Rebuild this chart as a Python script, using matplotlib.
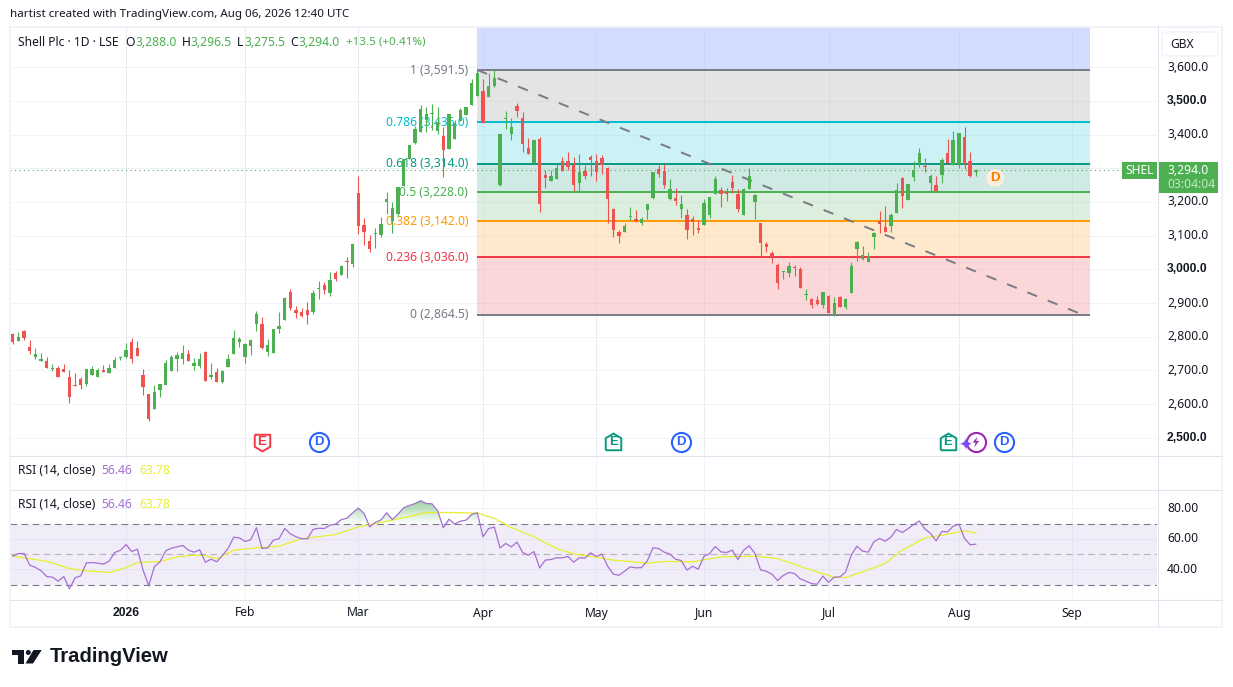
import matplotlib
matplotlib.use('Agg')
import numpy as np
import matplotlib.pyplot as plt
from matplotlib.colors import LinearSegmentedColormap
from matplotlib.patches import Ellipse, FancyBboxPatch, Polygon, Rectangle
from matplotlib.path import Path

plt.rcParams['font.family'] = ['Noto Sans', 'DejaVu Sans']

# OHLC, one value per daily bar
opens = [
    2808, 2787, 2817, 2769, 2739, 2727, 2727, 2703, 2706, 2703,
    2682, 2658, 2676, 2661, 2685, 2682, 2700, 2691, 2706, 2736,
    2739, 2784, 2766, 2685, 2631, 2586, 2643, 2658, 2697, 2733,
    2733, 2748, 2712, 2712, 2754, 2682, 2694, 2667, 2709, 2748,
    2784, 2739, 2772, 2838, 2838, 2754, 2751, 2823, 2850, 2934,
    2880, 2874, 2880, 2874, 2943, 2955, 2931, 2988, 2984, 3024,
    3016, 3226, 3131, 3084, 3106, 3102, 3201, 3142, 3164, 3248,
    3328, 3375, 3409, 3444, 3461, 3411, 3396, 3358, 3387, 3441,
    3459, 3488, 3513, 3530, 3510, 3545, 3251, 3446, 3402, 3485,
    3449, 3361, 3317, 3386, 3279, 3261, 3267, 3321, 3321, 3309,
    3255, 3291, 3333, 3321, 3330, 3300, 3178, 3110, 3110, 3155,
    3149, 3137, 3175, 3211, 3297, 3291, 3208, 3211, 3178, 3160,
    3149, 3122, 3131, 3160, 3223, 3235, 3229, 3258, 3223, 3160,
    3238, 3199, 3137, 3074, 3048, 3012, 2991, 2988, 3006, 3000,
    2923, 2911, 2908, 2894, 2921, 2864, 2918, 2888, 2930, 3060,
    3030, 3021, 3096, 3143, 3125, 3128, 3167, 3270, 3205, 3273,
    3315, 3306, 3256, 3250, 3279, 3345, 3309, 3312, 3392, 3321,
    3288]
highs = [
    2811, 2814, 2820, 2790, 2766, 2751, 2739, 2718, 2712, 2718,
    2700, 2691, 2682, 2703, 2712, 2706, 2715, 2718, 2739, 2742,
    2781, 2796, 2787, 2703, 2631, 2658, 2661, 2730, 2745, 2754,
    2775, 2760, 2736, 2751, 2757, 2721, 2706, 2700, 2748, 2820,
    2799, 2781, 2793, 2877, 2859, 2793, 2823, 2874, 2919, 2943,
    2892, 2886, 2904, 2940, 2964, 2961, 2991, 2994, 3012, 3038,
    3077, 3277, 3152, 3102, 3123, 3155, 3228, 3199, 3244, 3327,
    3370, 3426, 3488, 3483, 3491, 3483, 3422, 3462, 3444, 3478,
    3481, 3566, 3592, 3566, 3584, 3592, 3402, 3470, 3449, 3495,
    3468, 3390, 3384, 3392, 3294, 3294, 3314, 3333, 3347, 3333,
    3341, 3309, 3338, 3341, 3338, 3303, 3181, 3116, 3137, 3184,
    3175, 3155, 3193, 3288, 3309, 3312, 3267, 3241, 3220, 3178,
    3157, 3146, 3208, 3214, 3276, 3244, 3241, 3279, 3237, 3241,
    3300, 3223, 3137, 3080, 3054, 3018, 2994, 3021, 3012, 3006,
    2941, 2914, 2920, 2933, 2924, 2918, 2921, 2915, 3022, 3084,
    3069, 3051, 3110, 3173, 3187, 3167, 3256, 3273, 3253, 3321,
    3359, 3330, 3282, 3276, 3330, 3386, 3410, 3404, 3422, 3347,
    3296.5]
lows = [
    2778, 2787, 2791, 2748, 2734, 2727, 2706, 2697, 2682, 2694,
    2604, 2655, 2646, 2655, 2685, 2682, 2694, 2691, 2706, 2730,
    2736, 2721, 2742, 2628, 2550, 2586, 2622, 2658, 2697, 2697,
    2718, 2727, 2700, 2706, 2670, 2676, 2667, 2664, 2709, 2748,
    2769, 2721, 2745, 2817, 2763, 2742, 2751, 2811, 2850, 2880,
    2856, 2859, 2838, 2868, 2913, 2928, 2922, 2964, 2982, 2975,
    3008, 3105, 3073, 3050, 3062, 3097, 3165, 3109, 3157, 3246,
    3328, 3373, 3409, 3409, 3414, 3402, 3275, 3358, 3387, 3441,
    3459, 3488, 3513, 3434, 3510, 3541, 3246, 3417, 3384, 3452,
    3349, 3343, 3317, 3170, 3240, 3261, 3267, 3291, 3294, 3232,
    3232, 3267, 3276, 3261, 3282, 3137, 3095, 3077, 3110, 3145,
    3140, 3131, 3149, 3208, 3273, 3241, 3205, 3190, 3152, 3089,
    3101, 3107, 3131, 3151, 3223, 3184, 3202, 3226, 3169, 3160,
    3238, 3149, 3036, 3051, 3018, 2941, 2971, 2976, 2979, 2944,
    2908, 2885, 2893, 2885, 2870, 2861, 2888, 2882, 2930, 3024,
    3027, 3021, 3060, 3107, 3111, 3110, 3167, 3182, 3205, 3262,
    3303, 3288, 3232, 3232, 3256, 3315, 3309, 3300, 3297, 3273,
    3275.5]
closes = [
    2784, 2799, 2796, 2757, 2748, 2733, 2706, 2706, 2682, 2694,
    2622, 2655, 2658, 2703, 2703, 2700, 2694, 2706, 2730, 2739,
    2760, 2733, 2742, 2652, 2556, 2637, 2661, 2721, 2739, 2745,
    2751, 2727, 2721, 2733, 2670, 2685, 2667, 2697, 2733, 2796,
    2793, 2778, 2790, 2868, 2766, 2775, 2823, 2832, 2916, 2886,
    2871, 2862, 2865, 2931, 2946, 2940, 2967, 2970, 3010, 3022,
    3076, 3130, 3112, 3061, 3108, 3135, 3208, 3181, 3244, 3327,
    3370, 3416, 3475, 3462, 3463, 3436, 3353, 3462, 3434, 3473,
    3481, 3553, 3584, 3434, 3545, 3568, 3402, 3449, 3422, 3470,
    3373, 3343, 3384, 3194, 3270, 3276, 3300, 3291, 3303, 3249,
    3288, 3276, 3324, 3288, 3309, 3208, 3116, 3098, 3128, 3158,
    3143, 3149, 3193, 3288, 3282, 3249, 3238, 3202, 3193, 3116,
    3140, 3116, 3196, 3214, 3267, 3223, 3223, 3241, 3178, 3238,
    3276, 3220, 3077, 3066, 3036, 2959, 2994, 3009, 3003, 2944,
    2926, 2893, 2896, 2933, 2870, 2900, 2888, 2912, 3010, 3081,
    3042, 3039, 3107, 3134, 3111, 3161, 3235, 3217, 3253, 3294,
    3345, 3303, 3276, 3232, 3324, 3315, 3383, 3404, 3312, 3276,
    3294]

rsi_values = [
    48.6, 50.3, 50.3, 42.7, 41.2, 39.0, 35.2, 34.8, 32.2, 35.2,
    27.2, 34.4, 35.7, 44.2, 44.4, 44.0, 43.3, 45.3, 51.0, 52.5,
    56.2, 51.6, 53.2, 39.4, 29.1, 41.8, 44.9, 52.1, 53.8, 54.7,
    55.6, 52.5, 51.2, 52.7, 44.6, 46.6, 44.9, 49.0, 53.6, 61.0,
    60.6, 58.2, 59.3, 67.2, 53.6, 54.0, 59.1, 60.0, 66.7, 63.2,
    61.3, 60.0, 60.0, 66.1, 66.9, 66.7, 68.9, 69.6, 72.6, 73.5,
    77.0, 80.1, 76.6, 67.8, 70.7, 72.4, 77.0, 72.6, 76.1, 80.3,
    81.8, 83.1, 84.9, 83.1, 82.9, 78.3, 67.2, 72.8, 69.6, 71.5,
    72.2, 75.9, 77.0, 61.3, 66.7, 67.6, 54.0, 56.9, 54.7, 57.8,
    51.0, 49.2, 51.6, 40.9, 46.0, 46.4, 47.5, 47.5, 48.4, 44.6,
    47.5, 47.3, 50.8, 48.4, 49.9, 42.0, 36.8, 36.1, 38.7, 41.6,
    40.9, 41.1, 45.5, 54.0, 53.6, 51.2, 49.9, 46.6, 45.7, 39.4,
    42.0, 40.0, 48.4, 50.3, 54.9, 51.4, 51.0, 52.5, 46.4, 52.5,
    55.4, 50.3, 39.6, 38.7, 36.8, 32.6, 35.9, 37.9, 37.2, 33.7,
    32.2, 30.6, 30.2, 35.5, 31.5, 34.8, 35.0, 38.1, 49.2, 55.1,
    51.9, 51.2, 58.0, 60.2, 58.4, 61.0, 66.1, 64.1, 66.5, 69.3,
    71.7, 66.5, 63.4, 58.6, 64.8, 64.5, 68.2, 69.6, 60.2, 56.0,
    56.46]

# RSI moving average, read at the bars where the curve bends
ma_bars = [1, 4, 7, 11, 14, 18, 21, 23, 27, 30, 33, 35, 37, 40, 44, 48, 52, 58, 62, 68,
           74, 78, 83, 86, 89, 93, 97, 100, 104, 107, 113, 116, 121, 126, 132, 136,
           142, 146, 148, 151, 155, 158, 162, 165, 169, 171]
ma_values = [48.6, 46.8, 45.3, 40.5, 39.0, 37.9, 41.1, 44.4, 45.1, 48.1, 49.2, 48.8, 47.0, 52.5,
             54.0, 55.1, 60.0, 62.8, 67.8, 72.2, 77.2, 77.2, 76.8, 73.3, 67.4, 61.3, 53.6,
             50.1, 47.9, 46.0, 44.0, 45.1, 44.9, 48.1, 48.6, 47.0, 39.4, 34.8, 34.6, 38.3,
             43.8, 52.5, 60.6, 62.3, 65.2, 63.78]

fib_ratios = [1, 0.786, 0.618, 0.5, 0.382, 0.236, 0]
fib_prices = [3591.5, 3436.0, 3314.0, 3228.0, 3142.0, 3036.0, 2864.5]
fib_colors = ['#787b86', '#00bcd4', '#089981', '#4caf50', '#ff9800', '#f23645', '#787b86']
fib_fills = ['#e4e4e5', '#ccf2f6', '#cfe9e4', '#dceedd', '#ffe9cd', '#fbd7da']
fib_top_fill = '#d1dcff'
fib_start_bar, fib_end_bar = 83, 191.1
trend_end_bar = 190

month_bars = [21, 42, 62, 84, 104, 123, 145, 168, 188]
month_labels = ['2026', 'Feb', 'Mar', 'Apr', 'May', 'Jun', 'Jul', 'Aug', 'Sep']
price_ticks = [3600, 3500, 3400, 3200, 3100, 3000, 2900, 2800, 2700, 2600, 2500]
bold_prices = [3500, 3000, 2500]
rsi_ticks = [80, 60, 40]

earn_bars = [45, 107, 166]
earn_colors = ['#f23645', '#089981', '#089981']
div_bars = [55, 119, 176]

GREEN = '#4caf50'
RED = '#ef5350'
INK = '#131722'
GRID = '#f0f3fa'
EDGE = '#e0e3eb'
PURPLE = '#a56fd3'
YELLOW = '#e6f02c'

W, H = 1233, 687
BAR0, BAR_W = 12.8, 5.665
PRICE_Y0, PRICE_K = 70.0, 0.337


def bar_at(x):
    return 1 + (x - BAR0) / BAR_W


def price_at(y):
    return 3591.5 - (y - PRICE_Y0) / PRICE_K


def rsi_at(y):
    return 70 - (y - 523.5) / 1.525


def axes_px(x0, y0, x1, y1):
    ax = fig.add_axes([x0 / W, 1 - y1 / H, (x1 - x0) / W, (y1 - y0) / H])
    ax.set_xlim(bar_at(x0), bar_at(x1))
    ax.set_xticks([])
    ax.set_yticks([])
    for s in ax.spines.values():
        s.set_visible(False)
    return ax


def label(x, y, s, **kw):
    kw.setdefault('color', INK)
    kw.setdefault('fontsize', 8.7)
    kw.setdefault('va', 'center')
    return fig.text(x / W, 1 - y / H, s, **kw)


def box(x0, y0, x1, y1, **kw):
    fig.add_artist(Rectangle((x0 / W, 1 - y1 / H), (x1 - x0) / W, (y1 - y0) / H,
                             transform=fig.transFigure, **kw))


fig = plt.figure(figsize=(W / 100, H / 100), dpi=100, facecolor='white')

# outer frame and pane separators
box(10, 27, 1222, 627, facecolor='none', edgecolor=GRID, linewidth=1.4)

ax = axes_px(10, 27, 1157, 455)
ax.set_ylim(price_at(455), price_at(27))
bars = np.arange(1, len(closes) + 1)
ax.vlines(month_bars, *ax.get_ylim(), color=GRID, lw=0.72, zorder=0)
ax.hlines([p for p in range(2500, 3700, 100)], *ax.get_xlim(), color=GRID, lw=0.72, zorder=0)

# fib retracement bands and levels
ax.fill_between([fib_start_bar, fib_end_bar], fib_prices[0], price_at(27), color=fib_top_fill, lw=0, zorder=1)
for i, fill in enumerate(fib_fills):
    ax.fill_between([fib_start_bar, fib_end_bar], fib_prices[i], fib_prices[i + 1], color=fill, lw=0, zorder=1)
ax.vlines(month_bars, *ax.get_ylim(), color='#000000', alpha=0.03, lw=0.72, zorder=1.2)
ax.hlines([p for p in range(2900, 3600, 100)], fib_start_bar, fib_end_bar, color='#000000', alpha=0.03, lw=0.72, zorder=1.2)
for ratio, price, color in zip(fib_ratios, fib_prices, fib_colors):
    ax.hlines(price, fib_start_bar, fib_end_bar, color=color, lw=1.4, zorder=2)
    ax.annotate(f'{ratio} ({price:,.1f})', (fib_start_bar, price), xytext=(-6.5, 0),
                textcoords='offset points', ha='right', va='center', color=color, fontsize=8.7, zorder=2)
ax.plot([fib_start_bar, trend_end_bar], [fib_prices[0], fib_prices[-1]], color='#787b86', lw=1.4,
        dashes=(5.4, 5.9), zorder=2.5)

# current price line
ax.hlines(closes[-1], *ax.get_xlim(), color=GREEN, lw=0.8, linestyles=(0, (1, 3)), zorder=3)

# candles
body_colors = [GREEN if c >= o else RED for o, c in zip(opens, closes)]
ax.vlines(bars, lows, highs, colors=body_colors, lw=0.8, zorder=4)
bottoms = [min(o, c) for o, c in zip(opens, closes)]
heights = [max(abs(c - o), 2.5) for o, c in zip(opens, closes)]
ax.bar(bars, heights, bottom=bottoms, width=0.6, color=body_colors, linewidth=0, zorder=5)

# earnings and dividend markers under the candles
event_price = price_at(442)
earn_up = [(-1, -1), (1, -1), (1, 0.55), (0, 1.15), (-1, 0.55), (-1, -1)]
earn_down = [(-1, 1), (1, 1), (1, -0.55), (0, -1.15), (-1, -0.55), (-1, 1)]
for bar, color in zip(earn_bars, earn_colors):
    shape = earn_down if color == '#f23645' else earn_up
    ax.scatter([bar], [event_price], s=165, marker=shape, facecolor='white', edgecolor=color, lw=1.4, zorder=6)
    ax.text(bar, event_price, 'E', color=color, fontsize=9.5, ha='center', va='center', zorder=7,
            family='Liberation Sans', fontweight='bold')
ax.scatter(div_bars, [event_price] * 3, s=190, facecolor='white', edgecolor='#2962ff', lw=1.5, zorder=6)
for bar in div_bars:
    ax.text(bar, event_price, 'D', color='#2962ff', fontsize=9.5, ha='center', va='center', zorder=7,
            family='Liberation Sans', fontweight='bold')
ax.scatter([171], [event_price], s=190, facecolor='white', edgecolor='#9c27b0', lw=1.5, zorder=6)
bolt = [(0.3, 1), (-0.6, -0.1), (-0.05, -0.1), (-0.3, -1), (0.6, 0.2), (0.05, 0.2), (0.3, 1)]
ax.scatter([171], [event_price], s=60, marker=bolt, facecolor='#9c27b0', edgecolor='none', zorder=7)
ax.text(169.2, event_price - 10, '\u2726', color='#7c4dff', fontsize=12, ha='center', va='center', zorder=8, family='DejaVu Sans')
# dividend flag on the price pane
ax.scatter([174.4], [closes[-1] - 23], s=165, facecolor='#ffeedb', edgecolor='none', zorder=6)
ax.text(174.4, closes[-1] - 23, 'D', color='#f57c00', fontsize=9.5, ha='center', va='center', zorder=7,
        family='Liberation Sans', fontweight='bold')

# collapsed RSI header pane
pane = axes_px(10, 456, 1157, 489)
pane.vlines(month_bars, 0, 1, color=GRID, lw=0.72)
pane.set_ylim(0, 1)

# RSI pane
rsi_ax = axes_px(10, 490, 1157, 599)
rsi_ax.set_ylim(rsi_at(599), rsi_at(490))
rsi_ax.vlines(month_bars, *rsi_ax.get_ylim(), color=GRID, lw=0.72, zorder=0)
rsi_ax.hlines(rsi_ticks, *rsi_ax.get_xlim(), color=GRID, lw=0.72, zorder=0)
rsi_ax.axhspan(30, 70, color='#7e57c2', alpha=0.1, lw=0, zorder=1)
rsi_ax.hlines([70, 30], *rsi_ax.get_xlim(), color='#787b86', lw=0.8, linestyles=(0, (6, 4)), zorder=2)
rsi_ax.hlines(50, *rsi_ax.get_xlim(), color='#787b86', alpha=0.5, lw=0.8, linestyles=(0, (6, 4)), zorder=2)

# overbought shading fades towards the 70 line
xlim, ylim = rsi_ax.get_xlim(), rsi_ax.get_ylim()
rsi = np.array(rsi_values)
over = rsi_ax.fill_between(bars, rsi, 70, where=rsi > 70, interpolate=True, alpha=0)
fade = LinearSegmentedColormap.from_list('fade', [(0.3, 0.69, 0.31, 0.0), (0.3, 0.69, 0.31, 0.55)])
img = rsi_ax.imshow(np.linspace(1, 0, 64).reshape(-1, 1), extent=(xlim[0], xlim[1], 70, 85), cmap=fade,
                    aspect='auto', zorder=2.5)
img.set_clip_path(Path.make_compound_path(*over.get_paths()), transform=rsi_ax.transData)
rsi_ax.set_xlim(xlim)
rsi_ax.set_ylim(ylim)
rsi_ax.plot(ma_bars, ma_values, color=YELLOW, lw=0.9, zorder=3)
rsi_ax.plot(bars, rsi_values, color=PURPLE, lw=0.9, zorder=4)

# pane edges
for y in (455.5, 489.5, 599.5):
    fig.add_artist(plt.Line2D([10 / W, 1222 / W], [1 - y / H] * 2, color=EDGE, lw=0.75))
fig.add_artist(plt.Line2D([1157.5 / W] * 2, [1 - 27 / H, 1 - 627 / H], color=EDGE, lw=0.75))

# price scale
trans = ax.transData
for price in price_ticks:
    y = trans.transform((0, price))[1]
    if price in bold_prices:
        fig.text(1167 / W, y / fig.bbox.height, f'{price:,.1f}', color=INK, fontsize=8.7, va='center',
                 family='Liberation Sans', fontweight='bold')
    else:
        fig.text(1167 / W, y / fig.bbox.height, f'{price:,.1f}', color=INK, fontsize=8.7, va='center')
for value in rsi_ticks:
    y = rsi_ax.transData.transform((0, value))[1]
    fig.text(1167 / W, y / fig.bbox.height, f'{value:.2f}', color=INK, fontsize=8.7, va='center')

# time scale
for bar, text in zip(month_bars, month_labels):
    x = ax.transData.transform((bar, 0))[0]
    if text == '2026':
        fig.text(x / fig.bbox.width, 1 - 613 / H, text, color=INK, fontsize=8.7, ha='center', va='center',
                 family='Liberation Sans', fontweight='bold')
    else:
        fig.text(x / fig.bbox.width, 1 - 613 / H, text, color=INK, fontsize=8.7, ha='center', va='center')

# last price tags
box(1122, 162, 1157, 179, facecolor=GREEN, edgecolor='none')
box(1158, 162, 1218, 193, facecolor=GREEN, edgecolor='none')
label(1139.5, 170.5, 'SHEL', color='white', ha='center')
label(1167, 170, f'{closes[-1]:,.1f}', color='white')
label(1167, 184, '03:04:04', color='#c8e6c9')
fig.add_artist(FancyBboxPatch((1162 / W, 1 - 56 / H), 56 / W, 24 / H, boxstyle='round,pad=0,rounding_size=0.003',
                              transform=fig.transFigure, facecolor='white', edgecolor=GRID, lw=1))
label(1170, 45, 'GBX')

# texts
label(10, 14.5, 'hartist created with TradingView.com, Aug 06, 2026 12:40 UTC', fontsize=8.35)
label(18, 42, 'Shell Plc \u00b7 1D \u00b7 LSE')
for x, letter, value_x, value in [(125.5, 'O', 135, '3,288.0'), (181.5, 'H', 190.5, '3,296.5'),
                                  (237, 'L', 244.5, '3,275.5'), (290.5, 'C', 298.5, '3,294.0')]:
    label(x, 42, letter)
    label(value_x, 42, value, color=GREEN)
label(346, 42, '+13.5 (+0.41%)', color=GREEN, fontsize=8.4)
for y in (471, 505):
    label(18, y, 'RSI (14, close)')
    label(101, y, '56.46', color=PURPLE)
    label(139, y, '63.78', color=YELLOW)

# logo
logo = [[(12.3, 650), (24, 650), (24, 663.5), (18, 663.5), (18, 654.5), (12.3, 654.5)],
        [(33.5, 650), (41.7, 650), (33, 663.5), (25.5, 663.5)]]
for pts in logo:
    fig.add_artist(Polygon([(x / W, 1 - y / H) for x, y in pts], transform=fig.transFigure, facecolor=INK, edgecolor='none'))
fig.add_artist(Ellipse((28.3 / W, 1 - 652.5 / H), 5 / W, 5 / H, transform=fig.transFigure, facecolor=INK, edgecolor='none'))
label(49.5, 657, 'TradingView', fontsize=14.6, family='Liberation Sans', fontweight='bold')

fig.savefig('out.png', dpi=100)
